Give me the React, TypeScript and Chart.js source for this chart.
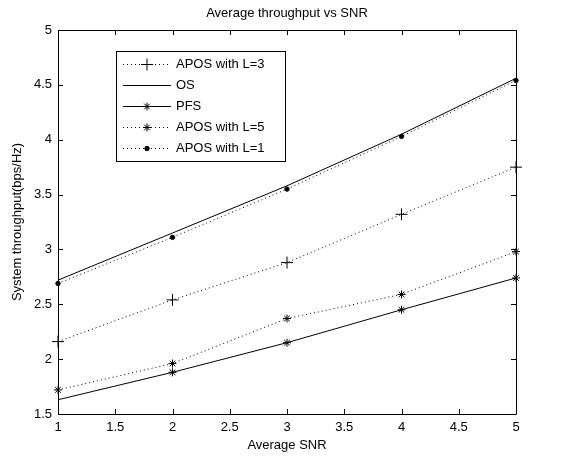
import React, { useEffect, useRef } from "react";
import { Chart, registerables } from "chart.js";
import { drawPoint } from "chart.js/helpers";

Chart.register(...registerables);

const snr = [1, 2, 3, 4, 5];
const aposL3 = [2.16, 2.54, 2.88, 3.32, 3.75];
const os = [2.72, 3.15, 3.58, 4.05, 4.56];
const pfs = [1.63, 1.88, 2.15, 2.45, 2.74];
const aposL5 = [1.72, 1.96, 2.37, 2.59, 2.98];
const aposL1 = [2.69, 3.11, 3.55, 4.03, 4.54];
const xTicks = [1, 1.5, 2, 2.5, 3, 3.5, 4, 4.5, 5];
const yTicks = [1.5, 2, 2.5, 3, 3.5, 4, 4.5, 5];
const seriesLabels = ["APOS with L=3", "OS", "PFS", "APOS with L=5", "APOS with L=1"];
const chartTitle = "Average throughput vs SNR";
const xTitle = "Average SNR";
const yTitle = "System throughput(bps/Hz)";

const FONT_FAMILY = "'Liberation Sans', Arial, sans-serif";
const font = { family: FONT_FAMILY, size: 13 };
const DOT = [1, 3];

const toPts = (ys: number[]) => ys.map((y, i) => ({ x: snr[i], y }));
const fmt = (v: any) => String(Number(v));

const framePlugin = {
  id: "frame",
  afterDraw(chart: any) {
    const { ctx, chartArea: a, scales } = chart;
    const xs = scales.x, ys = scales.y;
    ctx.save();
    ctx.strokeStyle = "#000";
    ctx.lineWidth = 1;
    ctx.beginPath();
    ctx.rect(Math.round(a.left) + 0.5, Math.round(a.top) + 0.5, Math.round(a.right - a.left), Math.round(a.bottom - a.top));
    ctx.stroke();
    const L = 5;
    ctx.beginPath();
    xTicks.forEach((v) => {
      const px = Math.round(xs.getPixelForValue(v)) + 0.5;
      ctx.moveTo(px, a.bottom);
      ctx.lineTo(px, a.bottom - L);
      ctx.moveTo(px, a.top);
      ctx.lineTo(px, a.top + L);
    });
    yTicks.forEach((v) => {
      const py = Math.round(ys.getPixelForValue(v)) + 0.5;
      ctx.moveTo(a.left, py);
      ctx.lineTo(a.left + L, py);
      ctx.moveTo(a.right, py);
      ctx.lineTo(a.right - L, py);
    });
    ctx.stroke();
    // title
    ctx.fillStyle = "#000";
    ctx.font = `13px ${FONT_FAMILY}`;
    ctx.textAlign = "center";
    ctx.textBaseline = "middle";
    ctx.fillText(chartTitle, (a.left + a.right) / 2, 13);
    // legend
    const bx = 116, by = 51, bw = 169, bh = 110;
    ctx.fillStyle = "#fff";
    ctx.fillRect(bx, by, bw, bh);
    ctx.strokeRect(bx + 0.5, by + 0.5, bw, bh);
    const order = [0, 1, 2, 3, 4];
    order.forEach((di, row) => {
      const ds = chart.data.datasets[di];
      const y = 64 + row * 21 + 0.5;
      ctx.save();
      ctx.strokeStyle = "#000";
      ctx.lineWidth = 1;
      ctx.setLineDash(ds.borderDash || []);
      ctx.beginPath();
      ctx.moveTo(123, y);
      ctx.lineTo(171, y);
      ctx.stroke();
      ctx.setLineDash([]);
      if (ds.legendRadius > 0) {
        drawPoint(ctx, { pointStyle: ds.pointStyle, radius: ds.legendRadius, rotation: 0, borderWidth: 1 }, 147, y);
        ctx.fillStyle = "#000";
        if (ds.pointStyle === "circle") {
          ctx.beginPath();
          ctx.arc(147, y, ds.legendRadius, 0, Math.PI * 2);
          ctx.fill();
        }
      }
      ctx.restore();
      ctx.fillStyle = "#000";
      ctx.textAlign = "left";
      ctx.textBaseline = "middle";
      ctx.font = `13px ${FONT_FAMILY}`;
      ctx.fillText(ds.label, 176, y);
    });
    ctx.restore();
  },
};

export default function App() {
  const ref = useRef<HTMLCanvasElement>(null);
  useEffect(() => {
    if (!ref.current) return;
    const base = {
      borderColor: "#000",
      backgroundColor: "#000",
      pointBorderColor: "#000",
      pointBackgroundColor: "#000",
      borderWidth: 1,
      pointBorderWidth: 1,
      tension: 0,
      fill: false,
      clip: false as any,
    };
    const chart = new Chart(ref.current, {
      type: "line",
      data: {
        datasets: [
          { ...base, label: seriesLabels[0], data: toPts(aposL3), borderDash: DOT, pointStyle: "cross", pointRadius: 6, legendRadius: 6 } as any,
          { ...base, label: seriesLabels[1], data: toPts(os), pointRadius: 0, legendRadius: 0 } as any,
          { ...base, label: seriesLabels[2], data: toPts(pfs), pointStyle: "star", pointRadius: [0, 4, 4, 4, 4], legendRadius: 4 } as any,
          { ...base, label: seriesLabels[3], data: toPts(aposL5), borderDash: DOT, pointStyle: "star", pointRadius: 4, legendRadius: 4 } as any,
          { ...base, label: seriesLabels[4], data: toPts(aposL1), borderDash: DOT, pointStyle: "circle", pointRadius: 2.2, legendRadius: 2.2 } as any,
        ],
      },
      options: {
        responsive: false,
        animation: false,
        layout: { padding: { top: 30, right: 45, left: 0, bottom: 0 } },
        plugins: {
          legend: { display: false },
          title: { display: false },
          tooltip: { enabled: false },
        },
        scales: {
          x: {
            type: "linear",
            min: 1,
            max: 5,
            afterBuildTicks: (s: any) => {
              s.ticks = xTicks.map((v) => ({ value: v }));
            },
            afterFit: (s: any) => {
              s.height = 44;
            },
            grid: { display: false, drawTicks: false },
            border: { display: false },
            ticks: { color: "#000", font, padding: 6, maxRotation: 0, autoSkip: false, callback: fmt },
            title: { display: true, text: xTitle, color: "#000", font, padding: { top: 0, bottom: 5 } },
          },
          y: {
            type: "linear",
            min: 1.5,
            max: 5,
            afterBuildTicks: (s: any) => {
              s.ticks = yTicks.map((v) => ({ value: v }));
            },
            afterFit: (s: any) => {
              s.width = 58;
            },
            grid: { display: false, drawTicks: false },
            border: { display: false },
            ticks: { color: "#000", font, padding: 6, autoSkip: false, callback: fmt },
            title: { display: true, text: yTitle, color: "#000", font, padding: { top: 10, bottom: 0 } },
          },
        },
      } as any,
      plugins: [framePlugin],
    });
    return () => chart.destroy();
  }, []);
  return (
    <div style={{ position: "absolute", left: 0, top: 0, width: 561, height: 458, background: "#fff" }}>
      <canvas ref={ref} width={561} height={458} style={{ width: 561, height: 458, display: "block" }} />
    </div>
  );
}
